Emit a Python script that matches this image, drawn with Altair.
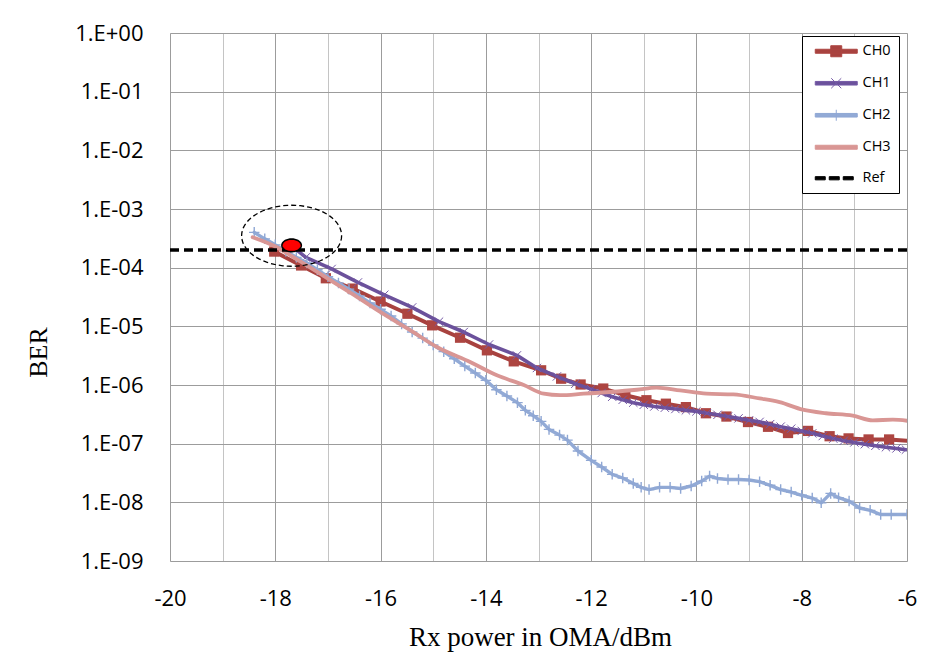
import math
import altair as alt
import pandas as pd

# ---------------- data ----------------
ch0_x = [-18.02, -17.51, -17.04, -16.53, -16.0, -15.49, -15.02, -14.49, -13.98, -13.47,
         -12.95, -12.57, -12.2, -11.77, -11.35, -10.95, -10.58, -10.2, -9.82, -9.43,
         -9.02, -8.64, -8.26, -7.88, -7.47, -7.11, -6.73, -6.34, -6.0]
ch0_y = [1.88e-4, 1.09e-4, 6.6e-5, 4.4e-5, 2.65e-5, 1.64e-5, 1.04e-5, 6.4e-6, 3.9e-6, 2.53e-6,
         1.78e-6, 1.28e-6, 1.02e-6, 8.7e-7, 6.7e-7, 5.5e-7, 4.8e-7, 4.2e-7, 3.3e-7, 2.9e-7,
         2.34e-7, 1.94e-7, 1.52e-7, 1.65e-7, 1.34e-7, 1.23e-7, 1.18e-7, 1.18e-7, 1.12e-7]

ch1_x = [-17.7, -17.42, -16.93, -16.43, -15.93, -15.4, -14.89, -14.42, -13.94, -13.41,
         -13.03, -12.65, -12.3, -12.0, -11.8, -11.6, -11.4, -11.2, -11.0, -10.8,
         -10.6, -10.4, -10.2, -10.0, -9.8, -9.6, -9.4, -9.2, -9.0, -8.8,
         -8.6, -8.4, -8.2, -8.0, -7.8, -7.6, -7.4, -7.2, -7.0, -6.8,
         -6.6, -6.4, -6.2, -6.02]
ch1_y = [2.4e-4, 1.5e-4, 9.5e-5, 5.6e-5, 3.45e-5, 2.1e-5, 1.2e-5, 8.0e-6, 4.9e-6, 3.2e-6,
         1.95e-6, 1.4e-6, 1.05e-6, 8.5e-7, 7.3e-7, 6.3e-7, 5.6e-7, 5.0e-7, 4.6e-7, 4.3e-7,
         4.1e-7, 3.9e-7, 3.7e-7, 3.55e-7, 3.3e-7, 3.1e-7, 2.9e-7, 2.7e-7, 2.5e-7, 2.35e-7,
         2.15e-7, 1.95e-7, 1.8e-7, 1.65e-7, 1.5e-7, 1.35e-7, 1.22e-7, 1.12e-7, 1.05e-7, 9.8e-8,
         9.2e-8, 8.7e-8, 8.3e-8, 7.9e-8]

ch2_x = [-18.4, -18.2, -18.0, -17.8, -17.6, -17.4, -17.2, -17.0, -16.8, -16.6,
         -16.4, -16.2, -16.0, -15.8, -15.6, -15.4, -15.2, -15.0, -14.8, -14.6,
         -14.4, -14.2, -14.0, -13.8, -13.6, -13.4, -13.25, -13.1, -12.95, -12.8,
         -12.6, -12.45, -12.25, -12.0, -11.8, -11.6, -11.4, -11.2, -11.05, -10.9,
         -10.7, -10.5, -10.3, -10.1, -9.9, -9.75, -9.6, -9.4, -9.2, -9.0,
         -8.8, -8.6, -8.4, -8.2, -8.0, -7.8, -7.63, -7.45, -7.3, -7.1,
         -6.9, -6.7, -6.5, -6.3, -6.0]
ch2_y = [4.0e-4, 3.1e-4, 2.45e-4, 1.9e-4, 1.5e-4, 1.2e-4, 9.2e-5, 7.0e-5, 5.5e-5, 4.3e-5,
         3.3e-5, 2.5e-5, 1.95e-5, 1.5e-5, 1.1e-5, 8.0e-6, 6.3e-6, 4.8e-6, 3.7e-6, 2.8e-6,
         2.1e-6, 1.6e-6, 1.2e-6, 8.3e-7, 6.5e-7, 5.0e-7, 3.7e-7, 3.0e-7, 2.4e-7, 1.75e-7,
         1.4e-7, 1.15e-7, 7.5e-8, 5.2e-8, 4.0e-8, 3.0e-8, 2.6e-8, 2.1e-8, 1.8e-8, 1.65e-8,
         1.8e-8, 1.8e-8, 1.72e-8, 1.9e-8, 2.3e-8, 2.8e-8, 2.55e-8, 2.45e-8, 2.45e-8, 2.4e-8,
         2.25e-8, 1.95e-8, 1.65e-8, 1.5e-8, 1.32e-8, 1.18e-8, 9.8e-9, 1.42e-8, 1.2e-8, 1.05e-8,
         8.0e-9, 7.3e-9, 6.2e-9, 6.2e-9, 6.2e-9]

ch3_x = [-18.43, -18.0, -17.51, -17.0, -16.5, -16.0, -15.43, -14.92, -14.29, -13.79,
         -13.28, -12.9, -12.59, -12.14, -11.64, -11.13, -10.76, -10.31, -9.81, -9.3,
         -8.8, -8.42, -7.98, -7.54, -7.03, -6.65, -6.27, -5.99]
ch3_y = [3.3e-4, 2.3e-4, 1.25e-4, 6.5e-5, 3.4e-5, 1.74e-5, 8.5e-6, 4.4e-6, 2.45e-6, 1.46e-6,
         1.0e-6, 7.1e-7, 6.7e-7, 7.1e-7, 7.6e-7, 8.3e-7, 9.0e-7, 8.1e-7, 7.1e-7, 6.9e-7,
         5.9e-7, 5.1e-7, 3.8e-7, 3.3e-7, 3.0e-7, 2.5e-7, 2.56e-7, 2.45e-7]

ref_x = [-20, -6]
ref_y = [2e-4, 2e-4]

dot_x = [-17.69]
dot_y = [2.4e-4]
ring_x = [-17.69]
ring_y = [3.5e-4]

series_names = ["CH0", "CH1", "CH2", "CH3", "Ref"]
x_ticks = list(range(-20, -5))
y_ticks = [1e-9, 1e-8, 1e-7, 1e-6, 1e-5, 1e-4, 1e-3, 1e-2, 1e-1, 1]

# ---------------- styling ----------------
C0, C1, C2, C3, CREF = "#A8423F", "#6B519B", "#92AAD6", "#D99694", "#000000"
FONT = "Open Sans"
SERIF = "Liberation Serif"

PLOT_W, PLOT_H = 737, 528
PAD = {"left": 162, "top": 25, "right": 11, "bottom": 92}


def ellipse_path(ry, n=72):
    pts = []
    for i in range(n):
        t = 2 * math.pi * i / n
        pts.append(f"{math.cos(t):.4f},{ry * math.sin(t):.4f}")
    return "M" + " L".join(pts) + " Z"


x_scale = alt.Scale(domain=[-20, -6], nice=False, zero=False)
y_scale = alt.Scale(type="log", domain=[1e-9, 1], nice=False)

x_axis = alt.Axis(
    values=x_ticks,
    labelExpr="datum.value % 2 === 0 ? '' + datum.value : ''",
    labelFlush=False,
    title="Rx power in OMA/dBm",
    grid=True,
    gridColor=alt.condition("datum.value % 2 === 0", alt.value("#9c9c9c"), alt.value("#c4c4c4")),
    ticks=False, domain=False,
    labelFont=FONT, labelFontSize=22, labelColor="#000000", labelPadding=27,
    titleFont=SERIF, titleFontSize=27, titleFontWeight="normal", titleColor="#000000",
    titleBaseline="alphabetic", titleY=84, titleX=370,
)
y_axis = alt.Axis(
    values=y_ticks,
    labelExpr="'1.E' + (datum.value >= 1 ? '+' : '-') + (abs(round(log(datum.value)/LN10)) < 10 ? '0' : '') + abs(round(log(datum.value)/LN10))",
    labelFlush=False,
    title="BER",
    grid=True, gridColor="#9c9c9c",
    ticks=False, domain=False,
    labelFont=FONT, labelFontSize=22, labelColor="#000000", labelPadding=27,
    titleFont=SERIF, titleFontSize=26, titleFontWeight="normal", titleColor="#000000",
    titleBaseline="alphabetic", titleAngle=270, titleX=-124, titleY=319, titleAlign="center",
)


def X():
    return alt.X("x:Q", scale=x_scale, axis=x_axis)


def Y():
    return alt.Y("y:Q", scale=y_scale, axis=y_axis)


def df_of(xs, ys):
    return pd.DataFrame({"x": xs, "y": ys})


d0, d1, d2, d3 = df_of(ch0_x, ch0_y), df_of(ch1_x, ch1_y), df_of(ch2_x, ch2_y), df_of(ch3_x, ch3_y)
dref = df_of(ref_x, ref_y)


def line(df, color, width, interp="linear"):
    return alt.Chart(df).mark_line(
        color=color, strokeWidth=width, strokeCap="round", strokeJoin="round",
        interpolate=interp, clip=True
    ).encode(x=X(), y=Y())


l0 = line(d0, C0, 4)
p0 = alt.Chart(d0).transform_filter("datum.x < -6.1").mark_point(
    shape="square", filled=True, size=105, color="#AD4541", opacity=1, clip=True
).encode(x=X(), y=Y())

l1 = line(d1, C1, 3.6)
p1 = alt.Chart(d1).mark_point(
    shape="M-1,-1L1,1M-1,1L1,-1", filled=False, size=70, color="#7459A6",
    strokeWidth=1, opacity=1, clip=True
).encode(x=X(), y=Y())

l2 = line(d2, C2, 3.4)
p2 = alt.Chart(d2).mark_point(
    shape="M-1,0L1,0M0,-1L0,1", filled=False, size=110, color="#8FA7D4",
    strokeWidth=1.4, opacity=1, clip=True
).encode(x=X(), y=Y())

l3 = line(d3, C3, 3.8, "monotone")

lref = alt.Chart(dref).mark_line(
    color=CREF, strokeWidth=3.4, strokeDash=[9, 5], clip=True
).encode(x=X(), y=Y())

ring = alt.Chart(df_of(ring_x, ring_y)).mark_point(
    shape=ellipse_path(0.61), filled=False, size=10000, color="#000000",
    strokeWidth=1.3, strokeDash=[5, 3], opacity=1
).encode(x=X(), y=Y())

dot = alt.Chart(df_of(dot_x, dot_y)).mark_point(
    shape=ellipse_path(0.65), filled=True, size=376, fill="#FF0000",
    stroke="#000000", strokeWidth=1.6, opacity=1
).encode(x=X(), y=Y())

# ---------------- legend (custom Excel-like symbols) ----------------
u = 1 / 6.0  # px -> symbol units (symbolSize 144 -> 6px per unit)
L, R, Cx = -2 * u, 40 * u, 19 * u


def bar(h):
    return f"M{L:.3f},{-h:.3f}H{R:.3f}V{h:.3f}H{L:.3f}Z"


leg_paths = [
    bar(2 * u) + f" M{Cx - 5.5*u:.3f},{-5.5*u:.3f}H{Cx + 5.5*u:.3f}V{5.5*u:.3f}H{Cx - 5.5*u:.3f}Z",
    bar(1.8 * u) + f" M{Cx - 5*u:.3f},{-5*u:.3f}L{Cx + 5*u:.3f},{5*u:.3f} M{Cx - 5*u:.3f},{5*u:.3f}L{Cx + 5*u:.3f},{-5*u:.3f}",
    bar(1.8 * u) + f" M{Cx:.3f},{-5.5*u:.3f}V{5.5*u:.3f}",
    bar(2 * u),
    " ".join(
        f"M{a:.3f},{-1.6*u:.3f}H{b:.3f}V{1.6*u:.3f}H{a:.3f}Z"
        for a, b in [(L, L + 10 * u), (L + 14 * u, L + 24 * u), (L + 28 * u, L + 38 * u)]
    ),
]
leg_fill = [C0, C1, C2, C3, CREF]
leg_stroke = ["#AD4541", "#7459A6", "#8FA7D4", C3, CREF]

legend = alt.Legend(
    orient="none", legendX=PLOT_W - 105, legendY=3, title=None,
    strokeColor="#000000", fillColor="#FFFFFF", padding=8, rowPadding=16,
    symbolSize=144, symbolStrokeWidth=1, labelOffset=38,
    labelFont=FONT, labelFontSize=14.5, labelColor="#000000",
)
leg_df = pd.DataFrame({"series": series_names, "x": [-30] * 5, "y": [1e-3] * 5})
leg_layer = alt.Chart(leg_df).mark_point(filled=True, opacity=1, strokeWidth=1, clip=True).encode(
    x=X(), y=Y(),
    shape=alt.Shape("series:N", scale=alt.Scale(domain=series_names, range=leg_paths), legend=legend),
    fill=alt.Fill("series:N", scale=alt.Scale(domain=series_names, range=leg_fill), legend=legend),
    stroke=alt.Stroke("series:N", scale=alt.Scale(domain=series_names, range=leg_stroke), legend=legend),
)

chart = alt.layer(
    leg_layer, l0, p0, l1, p1, l2, p2, l3, lref, ring, dot
).properties(
    width=PLOT_W, height=PLOT_H,
    autosize=alt.AutoSizeParams(type="none"),
    padding=PAD,
).configure_view(
    stroke="#7f7f7f", strokeWidth=1
).configure(
    background="#FFFFFF", font=FONT
)

chart.save("out.html", embed_options={"renderer": "svg", "actions": False})
